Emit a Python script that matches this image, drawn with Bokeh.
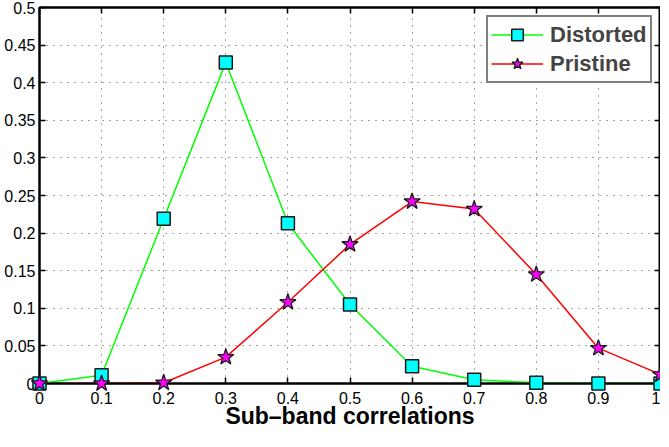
from bokeh.plotting import figure
from bokeh.models import (LinearAxis, FixedTicker, Legend, LegendItem, Range1d,
                          ColumnDataSource)
from bokeh.embed import file_html
from bokeh.resources import INLINE

# ---- data ----
x_vals = [0.0, 0.1, 0.2, 0.3, 0.4, 0.5, 0.6, 0.7, 0.8, 0.9, 1.0]
distorted = [0.0, 0.011, 0.219, 0.427, 0.213, 0.105, 0.023, 0.005, 0.001, 0.0, 0.0]
pristine = [0.0, 0.0, 0.001, 0.035, 0.108, 0.185, 0.242, 0.232, 0.145, 0.047, 0.012]

x_ticks = [0.0, 0.1, 0.2, 0.3, 0.4, 0.5, 0.6, 0.7, 0.8, 0.9, 1.0]
x_tick_labels = ["0", "0.1", "0.2", "0.3", "0.4", "0.5", "0.6", "0.7", "0.8", "0.9", "1"]
y_ticks = [0.0, 0.05, 0.1, 0.15, 0.2, 0.25, 0.3, 0.35, 0.4, 0.45, 0.5]
y_tick_labels = ["0", "0.05", "0.1", "0.15", "0.2", "0.25", "0.3", "0.35", "0.4", "0.45", "0.5"]

x_label = "Sub\u2013band correlations"
series_names = ["Distorted", "Pristine"]

FONT = "Liberation Sans"

p = figure(width=660, height=431, x_range=Range1d(0, 1), y_range=Range1d(0, 0.5),
           output_backend="svg", toolbar_location=None,
           min_border_left=39, min_border_right=0, min_border_top=7, min_border_bottom=30,
           background_fill_color="white", border_fill_color="white")
p.outline_line_color = "black"
p.outline_line_width = 2

# axes styling
def style_axis(ax, ticks, labels, show_labels=True):
    ax.ticker = FixedTicker(ticks=ticks)
    ax.axis_line_width = 2
    ax.axis_line_color = "black"
    ax.major_tick_in = 6
    ax.major_tick_out = 0
    ax.major_tick_line_width = 1.5
    ax.minor_tick_line_color = None
    ax.major_label_text_font = FONT
    ax.major_label_text_font_size = "16px"
    if show_labels:
        ax.major_label_overrides = {t: l for t, l in zip(ticks, labels)}
        ax.major_label_text_color = "black"
    else:
        ax.major_label_text_color = None
        ax.major_label_standoff = 0

xa = p.xaxis[0]
ya = p.yaxis[0]
style_axis(xa, x_ticks, x_tick_labels)
style_axis(ya, y_ticks, y_tick_labels)
xa.major_label_standoff = 8
ya.major_label_standoff = 4
xa.axis_label = x_label
xa.axis_label_text_font = FONT
xa.axis_label_text_font_style = "bold"
xa.axis_label_text_font_size = "23px"
xa.axis_label_text_color = "black"
xa.axis_label_standoff = -4

top_ax = LinearAxis()
right_ax = LinearAxis()
style_axis(top_ax, x_ticks, x_tick_labels, show_labels=False)
style_axis(right_ax, y_ticks, y_tick_labels, show_labels=False)
p.add_layout(top_ax, "above")
p.add_layout(right_ax, "right")

# grid
for g, t in ((p.xgrid[0], x_ticks), (p.ygrid[0], y_ticks)):
    g.ticker = FixedTicker(ticks=t)
    g.grid_line_color = "black"
    g.grid_line_alpha = 0.7
    g.grid_line_dash = "1 6"
    g.grid_line_width = 1

src = ColumnDataSource(dict(x=x_vals, d=distorted, pr=pristine))

gl = p.line("x", "d", source=src, line_color="#00ff00", line_width=1.5)
gs = p.scatter("x", "d", source=src, marker="square", size=13, fill_color="#00ffff",
               line_color="#1a1a1a", line_width=1.5, level="overlay")
rl = p.line("x", "pr", source=src, line_color="#ff0000", line_width=1.5)
rs = p.scatter("x", "pr", source=src, marker="star", size=17, fill_color="#ff00ff",
               line_color="#1a1a1a", line_width=1.3, level="overlay")

legend = Legend(items=[LegendItem(label=series_names[0], renderers=[gl, gs]),
                       LegendItem(label=series_names[1], renderers=[rl, rs])],
                location="top_right")
legend.border_line_color = "black"
legend.border_line_width = 2
legend.label_text_font = FONT
legend.label_text_font_style = "bold"
legend.label_text_font_size = "22px"
legend.glyph_width = 52
legend.glyph_height = 29
legend.label_width = 97
legend.spacing = 0
legend.padding = 3
legend.margin = 8
legend.label_standoff = 7
legend.background_fill_alpha = 1
p.add_layout(legend)

open("out.html", "w").write(file_html(p, INLINE))
